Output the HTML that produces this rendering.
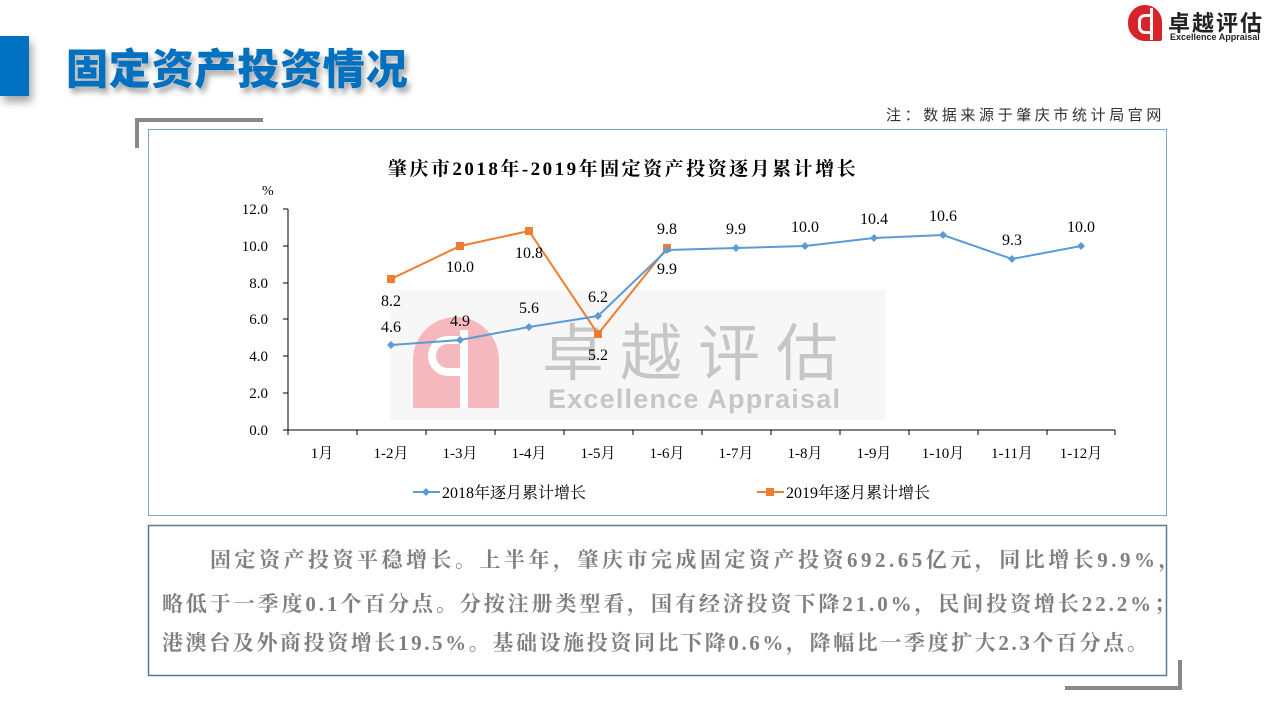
<!DOCTYPE html><html><head><meta charset="utf-8"><style>
body{margin:0;width:1280px;height:720px;background:#fff;position:relative;overflow:hidden;font-family:"Liberation Serif","Noto Serif CJK SC",serif}
.a{position:absolute}
.p{position:absolute;left:162px;font-weight:bold;font-size:21px;color:#7f7f7f;white-space:nowrap}
</style></head><body>
<div class="a" style="left:0;top:36px;width:29px;height:60px;background:#0070c0;box-shadow:3px 6px 8px rgba(0,0,0,.35)"></div>
<div class="a" style="left:66px;top:36px;font:900 42px 'Noto Sans CJK SC',sans-serif;color:#0070c0;text-shadow:3px 5px 6px rgba(0,0,0,.35);letter-spacing:0.8px">固定资产投资情况</div>
<div class="a" style="left:1128px;top:5px;width:34px;height:36px;background:#d9232a;border-radius:17px 17px 2px 17px"></div>
<div class="a" style="left:1138px;top:14px;width:10px;height:14px;border:3px solid #fff;border-right:none;border-radius:7px 0 0 7px"></div>
<div class="a" style="left:1150px;top:8px;width:3px;height:32px;background:#fff"></div>
<div class="a" style="left:1168px;top:6px;font:bold 22px 'Noto Sans CJK SC',sans-serif;color:#222;letter-spacing:2px">卓越评估</div>
<div class="a" style="left:1170px;top:32px;font:bold 9px 'Liberation Sans',sans-serif;color:#222">Excellence Appraisal</div>
<div class="a" style="left:886px;top:104px;font:15px 'Noto Sans CJK SC',sans-serif;color:#333;letter-spacing:3.6px">注：数据来源于肇庆市统计局官网</div>
<div class="a" style="left:135px;top:118px;width:128px;height:4px;background:#888"></div>
<div class="a" style="left:135px;top:118px;width:4px;height:30px;background:#888"></div>
<div class="a" style="left:1065px;top:686px;width:117px;height:4px;background:#888"></div>
<div class="a" style="left:1178px;top:660px;width:4px;height:30px;background:#888"></div>
<svg class="a" style="left:0;top:0" width="1280" height="720">
<rect x="148.5" y="129.5" width="1018" height="386" fill="#fff" stroke="#7fa7c4"/>
<rect x="390" y="290" width="495" height="130" fill="#f7f7f7"/>
<path d="M413 408 V360 a43 43 0 0 1 86 0 V408 Z" fill="#f4b8bd"/>
<path d="M460 340 h-12 a16 16 0 0 0 0 32 h12" fill="none" stroke="#fff" stroke-width="8"/>
<rect x="460" y="330" width="8" height="78" fill="#fff"/>
<text x="542" y="375" font-family="Noto Sans CJK SC" font-size="62" fill="#c6c6c6" letter-spacing="16">卓越评估</text>
<text x="548" y="408" font-family="Liberation Sans" font-size="27" font-weight="bold" fill="#c6c6c6" letter-spacing="1.2">Excellence Appraisal</text>
<text x="623" y="175" text-anchor="middle" font-size="19" font-weight="bold" fill="#000" letter-spacing="2.5">肇庆市2018年-2019年固定资产投资逐月累计增长</text>
<text x="262" y="195" font-size="14">%</text>
<g stroke="#000" stroke-width="1" fill="none">
<path d="M288 209 V430 H1115"/>
<path d="M283 209H288M283 246H288M283 283H288M283 319H288M283 356H288M283 393H288M283 430H288"/>
<path d="M288 430v5M357 430v5M426 430v5M495 430v5M564 430v5M633 430v5M702 430v5M771 430v5M840 430v5M909 430v5M978 430v5M1047 430v5M1115 430v5"/>
</g>
<g font-size="15" text-anchor="end"><text x="268" y="214">12.0</text><text x="268" y="251">10.0</text><text x="268" y="288">8.0</text><text x="268" y="324">6.0</text><text x="268" y="361">4.0</text><text x="268" y="398">2.0</text><text x="268" y="435">0.0</text></g>
<g font-size="15" text-anchor="middle"><text x="322" y="458">1月</text><text x="391" y="458">1-2月</text><text x="460" y="458">1-3月</text><text x="529" y="458">1-4月</text><text x="598" y="458">1-5月</text><text x="667" y="458">1-6月</text><text x="736" y="458">1-7月</text><text x="805" y="458">1-8月</text><text x="874" y="458">1-9月</text><text x="943" y="458">1-10月</text><text x="1012" y="458">1-11月</text><text x="1081" y="458">1-12月</text></g>
<polyline points="391,279 460,246 529,231 598,334 667,248" fill="none" stroke="#ed7d31" stroke-width="2"/>
<g fill="#ed7d31"><rect x="387" y="275" width="8" height="8"/><rect x="456" y="242" width="8" height="8"/><rect x="525" y="227" width="8" height="8"/><rect x="594" y="330" width="8" height="8"/><rect x="663" y="244" width="8" height="8"/></g>
<polyline points="391,345 460,340 529,327 598,316 667,250 736,248 805,246 874,238 943,235 1012,259 1081,246" fill="none" stroke="#5b9bd5" stroke-width="2"/>
<g fill="#5b9bd5"><path d="M391 341l4 4-4 4-4-4zM460 336l4 4-4 4-4-4zM529 323l4 4-4 4-4-4zM598 312l4 4-4 4-4-4zM667 246l4 4-4 4-4-4zM736 244l4 4-4 4-4-4zM805 242l4 4-4 4-4-4zM874 234l4 4-4 4-4-4zM943 231l4 4-4 4-4-4zM1012 255l4 4-4 4-4-4zM1081 242l4 4-4 4-4-4z"/></g>
<g font-size="16" text-anchor="middle">
<text x="391" y="306">8.2</text><text x="460" y="272">10.0</text><text x="529" y="258">10.8</text><text x="598" y="360">5.2</text><text x="667" y="274">9.9</text>
<text x="391" y="332">4.6</text><text x="460" y="326">4.9</text><text x="529" y="313">5.6</text><text x="598" y="302">6.2</text><text x="667" y="234">9.8</text><text x="736" y="234">9.9</text><text x="805" y="232">10.0</text><text x="874" y="224">10.4</text><text x="943" y="221">10.6</text><text x="1012" y="245">9.3</text><text x="1081" y="232">10.0</text>
</g>
<line x1="413" y1="492" x2="440" y2="492" stroke="#5b9bd5" stroke-width="2"/><path d="M426 488l4 4-4 4-4-4z" fill="#5b9bd5"/>
<text x="442" y="498" font-size="16">2018年逐月累计增长</text>
<line x1="757" y1="492" x2="784" y2="492" stroke="#ed7d31" stroke-width="2"/><rect x="766" y="488" width="8" height="8" fill="#ed7d31"/>
<text x="786" y="498" font-size="16">2019年逐月累计增长</text>
<rect x="148.5" y="525.5" width="1018" height="150" fill="#fff" stroke="#5a7a90" stroke-width="1.5"/>
</svg>
<div class="p" style="left:210px;top:544px;letter-spacing:3.5px">固定资产投资平稳增长。上半年，肇庆市完成固定资产投资692.65亿元，同比增长9.9%，</div>
<div class="p" style="top:588px;letter-spacing:2.9px">略低于一季度0.1个百分点。分按注册类型看，国有经济投资下降21.0%，民间投资增长22.2%；</div>
<div class="p" style="top:627px;letter-spacing:2.6px">港澳台及外商投资增长19.5%。基础设施投资同比下降0.6%，降幅比一季度扩大2.3个百分点。</div>
</body></html>
